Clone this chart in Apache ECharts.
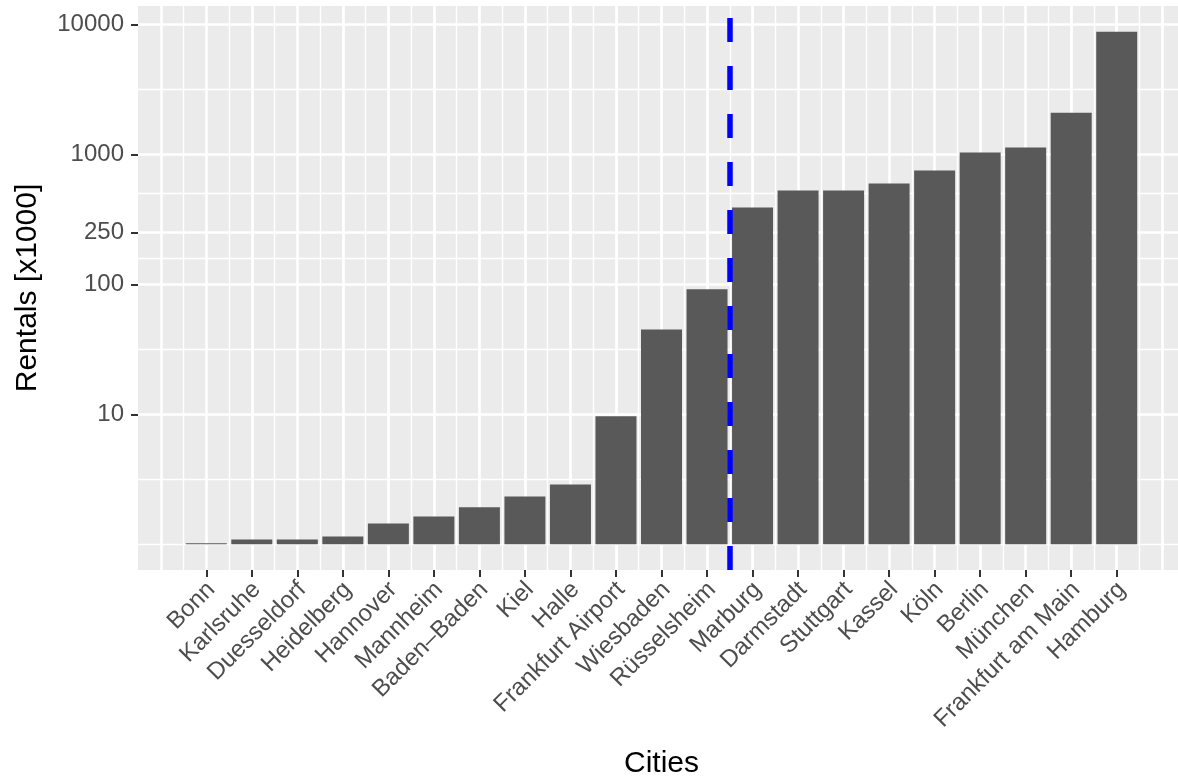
<!DOCTYPE html>
<html>
<head>
<meta charset="utf-8">
<script src="https://cdn.jsdelivr.net/npm/echarts@6/dist/echarts.min.js"></script>
<style>
html,body{margin:0;padding:0;background:#fff;overflow:hidden;}
#chart{width:1178px;height:783px;}
</style>
</head>
<body>
<div id="chart"></div>
<script>
// ---- data ----
const cities = ['Bonn','Karlsruhe','Duesseldorf','Heidelberg','Hannover','Mannheim','Baden–Baden','Kiel','Halle','Frankfurt Airport','Wiesbaden','Rüsselsheim','Marburg','Darmstadt','Stuttgart','Kassel','Köln','Berlin','München','Frankfurt am Main','Hamburg'];
const rentals = [1.02, 1.09, 1.09, 1.15, 1.45, 1.64, 1.93, 2.34, 2.89, 9.7, 45, 92, 391, 529, 529, 598, 753, 1036, 1132, 2104, 8840];
const yTickLabels = [10, 100, 250, 1000, 10000];
const splitAt = 12.5; // dashed divider between Rüsselsheim and Marburg

// ---- derived scales (ggplot-like log10 transform) ----
const logVals = rentals.map(v => Math.log10(v));
const logMax = Math.max(...logVals);
const yMin = -0.05 * logMax, yMax = logMax * 1.05;
const majorY = yTickLabels.map(v => Math.log10(v));
// minor breaks: midpoints between majors, extended one step each side
const ext = [majorY[0] - (majorY[1] - majorY[0])].concat(majorY, [majorY[majorY.length-1] + (majorY[majorY.length-1] - majorY[majorY.length-2])]);
const minorY = [];
for (let i = 0; i < ext.length - 1; i++) {
  minorY.push(ext[i], (ext[i] + ext[i+1]) / 2);
}
minorY.push(ext[ext.length-1]);
const minorYIn = minorY.filter(v => v >= yMin && v <= yMax && !majorY.some(m => Math.abs(m - v) < 1e-9));

const xMin = -0.5, xMax = 22.5;
const catPos = cities.map((c, i) => i + 1);
const majorX = [], minorX = [];
for (let k = 0; k <= 22; k++) { majorX.push(k); }
for (let k = 0; k <= 21; k++) { minorX.push(k + 0.5); }

const chart = echarts.init(document.getElementById('chart'), null, {renderer: 'canvas'});
const FONT = 'Liberation Sans, Arial, Helvetica, sans-serif';

chart.setOption({
  animation: false,
  backgroundColor: '#ffffff',
  grid: {left: 138, right: -7, top: 6, bottom: 213, outerBoundsMode: 'none', containLabel: false,
         show: true, backgroundColor: '#EBEBEB', borderWidth: 0},
  xAxis: {
    type: 'value', min: xMin, max: xMax,
    name: 'Cities', nameLocation: 'middle', nameGap: 179,
    nameTextStyle: {fontFamily: FONT, fontSize: 30, color: '#000'},
    axisLine: {show: false, onZero: false},
    splitLine: {show: false},
    axisTick: {show: true, customValues: catPos, length: 7, lineStyle: {color: '#333333', width: 2}},
    axisLabel: {
      customValues: catPos, rotate: 45, margin: 11,
      align: 'right', verticalAlign: 'top', lineHeight: 14,
      fontFamily: FONT, fontSize: 24, color: '#4D4D4D',
      formatter: v => cities[Math.round(v) - 1] || ''
    }
  },
  yAxis: {
    type: 'value', min: yMin, max: yMax,
    name: 'Rentals [x1000]', nameLocation: 'middle', nameGap: 95, nameRotate: 90,
    nameTextStyle: {fontFamily: FONT, fontSize: 30, color: '#000'},
    axisLine: {show: false, onZero: false},
    splitLine: {show: false},
    axisTick: {show: true, customValues: majorY, length: 7, lineStyle: {color: '#333333', width: 2}},
    axisLabel: {
      customValues: majorY, margin: 14,
      fontFamily: FONT, fontSize: 24, color: '#4D4D4D',
      formatter: v => String(Math.round(Math.pow(10, v)))
    }
  },
  series: [
    {
      type: 'scatter', data: [], silent: true, z: 1,
      markLine: {
        silent: true, symbol: ['none', 'none'], z: 1, animation: false,
        label: {show: false},
        emphasis: {disabled: true},
        data: [].concat(
          minorX.map(v => ({xAxis: v, lineStyle: {color: '#FFFFFF', width: 1.4, type: 'solid'}})),
          minorYIn.map(v => ({yAxis: v, lineStyle: {color: '#FFFFFF', width: 1.4, type: 'solid'}})),
          majorX.map(v => ({xAxis: v, lineStyle: {color: '#FFFFFF', width: 2.7, type: 'solid'}})),
          majorY.map(v => ({yAxis: v, lineStyle: {color: '#FFFFFF', width: 2.7, type: 'solid'}}))
        )
      }
    },
    {
      type: 'bar', z: 2,
      data: logVals.map((v, i) => [catPos[i], v]),
      barWidth: 41,
      itemStyle: {color: '#595959'},
      emphasis: {disabled: true},
      markLine: {
        silent: true, symbol: ['none', 'none'], z: 5, animation: false,
        label: {show: false},
        emphasis: {disabled: true},
        data: [{xAxis: splitAt, lineStyle: {color: '#0000FF', width: 5.5, type: [24, 24]}}]
      }
    }
  ]
});
</script>
</body>
</html>
